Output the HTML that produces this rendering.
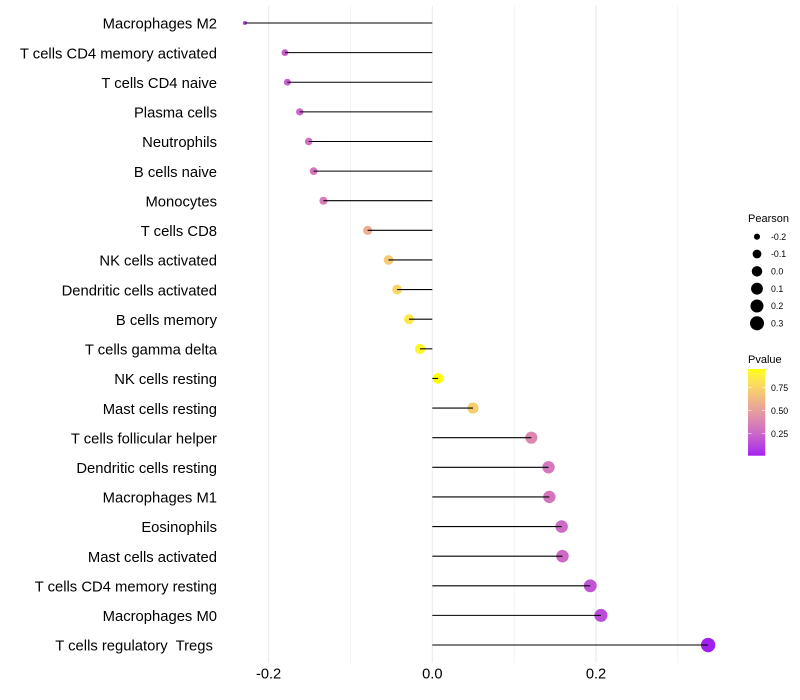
<!DOCTYPE html>
<html>
<head>
<meta charset="utf-8">
<title>Lollipop chart</title>
<style>
html,body{margin:0;padding:0;background:#fff;width:800px;height:700px;overflow:hidden}
svg{display:block;font-family:"Liberation Sans",sans-serif}
</style>
</head>
<body>
<svg id="chart" width="800" height="700" viewBox="0 0 800 700" xmlns="http://www.w3.org/2000/svg"></svg>
<script>
const categories = ["Macrophages M2","T cells CD4 memory activated","T cells CD4 naive","Plasma cells","Neutrophils","B cells naive","Monocytes","T cells CD8","NK cells activated","Dendritic cells activated","B cells memory","T cells gamma delta","NK cells resting","Mast cells resting","T cells follicular helper","Dendritic cells resting","Macrophages M1","Eosinophils","Mast cells activated","T cells CD4 memory resting","Macrophages M0","T cells regulatory  Tregs "];
const pearson = [-0.229,-0.180,-0.177,-0.162,-0.151,-0.145,-0.133,-0.079,-0.0535,-0.043,-0.0285,-0.015,0.007,0.0497,0.121,0.142,0.143,0.158,0.159,0.193,0.206,0.337];
const pvalues = [0.11,0.21,0.22,0.26,0.295,0.315,0.357,0.585,0.71,0.765,0.845,0.92,0.96,0.73,0.40,0.325,0.32,0.273,0.27,0.18,0.15,0.016];
const xMajorTicks = [-0.2,0,0.2];
const xMinorTicks = [-0.1,0.1,0.3];
const xTickLabels = ["-0.2","0.0","0.2"];
const sizeBreaks = [-0.2,-0.1,0,0.1,0.2,0.3];
const sizeLabels = ["-0.2","-0.1","0.0","0.1","0.2","0.3"];
const pBreaks = [0.25,0.5,0.75];
const pLabels = ["0.25","0.50","0.75"];

const NS = "http://www.w3.org/2000/svg";
const svg = document.getElementById("chart");
function mk(tag, attrs, parent, text){
  const e = document.createElementNS(NS, tag);
  for (const k in attrs) e.setAttribute(k, attrs[k]);
  if (text !== undefined) e.textContent = text;
  (parent || svg).appendChild(e);
  return e;
}
// axis functions
const xScale = v => 432.3 + v * 818.5;
const yScale = i => 23 + i * 29.62;
const sizeMin = -0.2295, sizeMax = 0.3375;
const rScale = v => 1.8 + 5.4 * Math.sqrt(Math.max(0, (v - sizeMin) / (sizeMax - sizeMin)));
const pMin = 0.016, pMax = 0.96;
const pY = p => 410.7 + (0.5 - p) * 92;

// Lab colour interpolation (purple -> yellow)
function rgb2lab(c){
  const f = u => { u/=255; return u>0.04045?Math.pow((u+0.055)/1.055,2.4):u/12.92; };
  const r=f(c[0]),g=f(c[1]),b=f(c[2]);
  const X=(0.4124*r+0.3576*g+0.1805*b)/0.95047,Y=0.2126*r+0.7152*g+0.0722*b,Z=(0.0193*r+0.1192*g+0.9505*b)/1.08883;
  const h=t=>t>0.008856?Math.cbrt(t):7.787*t+16/116;
  return [116*h(Y)-16,500*(h(X)-h(Y)),200*(h(Y)-h(Z))];
}
function lab2rgb(l){
  const fy=(l[0]+16)/116,fx=fy+l[1]/500,fz=fy-l[2]/200;
  const h=t=>t*t*t>0.008856?t*t*t:(t-16/116)/7.787;
  const X=h(fx)*0.95047,Y=h(fy),Z=h(fz)*1.08883;
  const r=3.2406*X-1.5372*Y-0.4986*Z,g=-0.9689*X+1.8758*Y+0.0415*Z,b=0.0557*X-0.204*Y+1.057*Z;
  const f=u=>{u=u>0.0031308?1.055*Math.pow(u,1/2.4)-0.055:12.92*u;return Math.round(Math.min(1,Math.max(0,u))*255);};
  return "rgb("+f(r)+","+f(g)+","+f(b)+")";
}
const labLow = rgb2lab([160,32,240]), labHigh = rgb2lab([255,255,0]);
function colorAt(t){
  t = Math.min(1, Math.max(0, t));
  return lab2rgb(labLow.map((v,i)=>v+(labHigh[i]-v)*t));
}
const pColor = p => colorAt((p - pMin) / (pMax - pMin));

// grid
xMinorTicks.forEach(v => {
  const g = mk("line",{x1:xScale(v),x2:xScale(v),y1:5.5,y2:662.7,stroke:"#ebebeb","stroke-width":0.55});
  
  
});
xMajorTicks.forEach(v => {
  const g = mk("line",{x1:xScale(v),x2:xScale(v),y1:5.5,y2:662.7,stroke:"#ebebeb","stroke-width":1.07});
  
  
});

// points then stems
categories.forEach((c,i) => {
  const dot = mk("circle",{cx:xScale(pearson[i]),cy:yScale(i),r:rScale(pearson[i]),fill:pColor(pvalues[i])});
  
  
});
categories.forEach((c,i) => {
  const st = mk("line",{x1:xScale(0),x2:xScale(pearson[i]),y1:yScale(i),y2:yScale(i),stroke:"#000","stroke-width":1.07});
  
  
});

// y labels
categories.forEach((c,i) => {
  const t = mk("text",{x:217,y:yScale(i)+5.7,"text-anchor":"end","font-size":14.8,fill:"#000","xml:space":"preserve",style:"white-space:pre"},svg,c);
  
  
});
// x labels
xMajorTicks.forEach((v,i) => {
  const t = mk("text",{x:xScale(v),y:678.5,"text-anchor":"middle","font-size":14.67,fill:"#000"},svg,xTickLabels[i]);
  
  
});

// size legend
const sizeTitle = mk("text",{x:748,y:222,"font-size":11,fill:"#000"},svg,"Pearson");


sizeBreaks.forEach((v,i) => {
  const y = 236.7 + i * 17.32;
  const k = mk("circle",{cx:757,cy:y,r:rScale(v),fill:"#000"});
  
  
  const t = mk("text",{x:771,y:y+3.1,"font-size":8.8,fill:"#000"},svg,sizeLabels[i]);
  
  
});

// colour legend
const colorTitle = mk("text",{x:748,y:363,"font-size":11,fill:"#000"},svg,"Pvalue");


const defs = mk("defs",{});
const grad = mk("linearGradient",{id:"pgrad",x1:0,y1:1,x2:0,y2:0},defs);
for (let s = 0; s <= 20; s++){
  mk("stop",{offset:(s/20),"stop-color":colorAt(s/20)},grad);
}
const bar = mk("rect",{x:748,y:369,width:17.3,height:86.7,fill:"url(#pgrad)"});


pBreaks.forEach((p,i) => {
  const y = pY(p);
  const a = mk("line",{x1:748,x2:751.5,y1:y,y2:y,stroke:"#fff","stroke-width":0.55});
  
  
  const b = mk("line",{x1:761.8,x2:765.3,y1:y,y2:y,stroke:"#fff","stroke-width":0.55});
  
  
  const t = mk("text",{x:771,y:y+3.1,"font-size":8.8,fill:"#000"},svg,pLabels[i]);
  
  
});
</script>
</body>
</html>
